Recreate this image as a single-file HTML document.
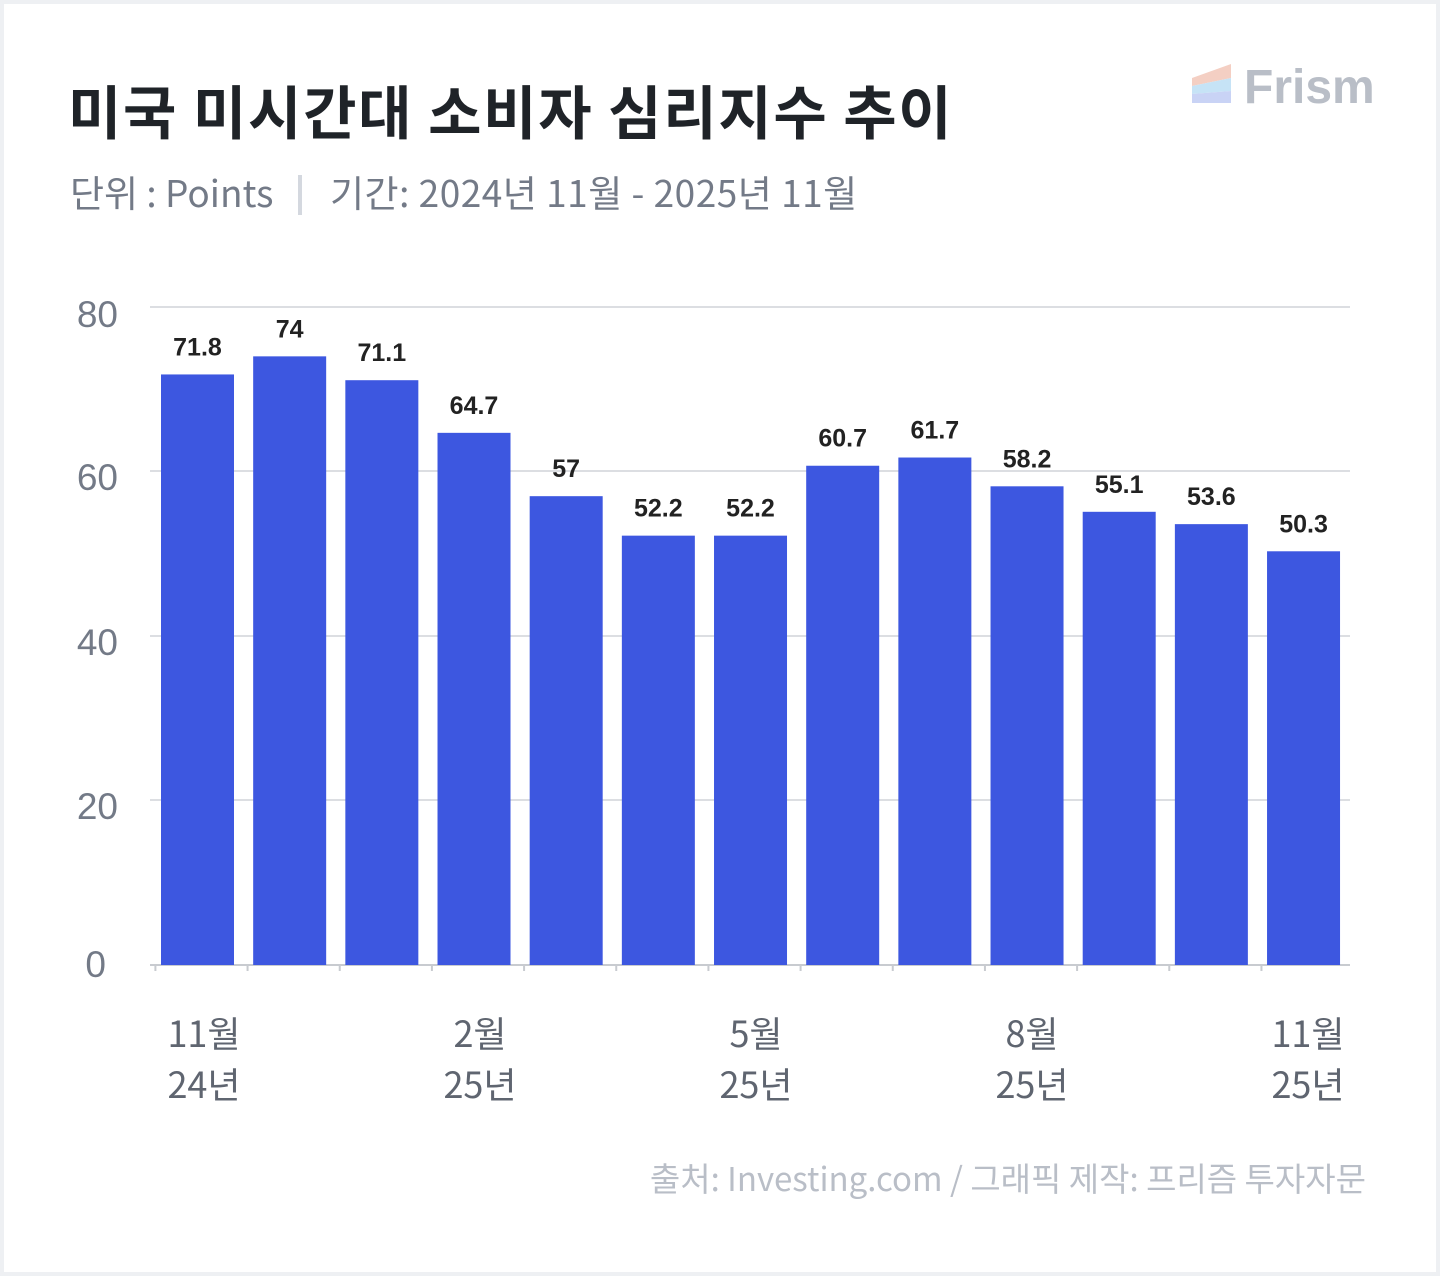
<!DOCTYPE html>
<html><head><meta charset="utf-8"><style>
body{margin:0;width:1440px;height:1276px;background:#eef0f3;font-family:"Liberation Sans","Noto Sans CJK KR",sans-serif;}
.card{position:absolute;left:4px;top:4px;width:1432px;height:1268px;background:#fff;}
</style></head><body>
<div class="card"></div>
<svg width="1440" height="1276" style="position:absolute;left:0;top:0" font-family="Liberation Sans, Noto Sans CJK KR, sans-serif">
<text x="68" y="134" font-size="58" font-weight="700" fill="#1f2328" font-family="Noto Sans CJK KR, sans-serif" letter-spacing="1.7">미국 미시간대 소비자 심리지수 추이</text>
<text x="70" y="207" font-size="37" fill="#737a87" font-family="Noto Sans CJK KR, sans-serif" letter-spacing="0">단위 : Points</text>
<rect x="298" y="175" width="4" height="40" fill="#d4d8df"/>
<text x="330" y="207" font-size="37" fill="#737a87" font-family="Noto Sans CJK KR, sans-serif" letter-spacing="0.5">기간: 2024년 11월 - 2025년 11월</text>
<polygon points="1192,78 1231,64 1231,78 1192,86" fill="#f4cfc3"/>
<polygon points="1192,86 1231,78 1231,91 1192,94" fill="#c6e3f6"/>
<polygon points="1192,94 1231,91 1231,103 1192,103" fill="#c9d3f5"/>
<text x="1244" y="103" font-size="48" font-weight="700" fill="#b9bec7">Frism</text>
<g stroke="#dcdee2" stroke-width="2">
<line x1="150" y1="307" x2="1350" y2="307"/><line x1="150" y1="471" x2="1350" y2="471"/>
<line x1="150" y1="636" x2="1350" y2="636"/><line x1="150" y1="800" x2="1350" y2="800"/>
<line x1="150" y1="965" x2="1350" y2="965" stroke="#c8cbd0"/>
</g>
<g font-size="37" fill="#737a87" text-anchor="end">
<text x="118" y="327">80</text><text x="118" y="490">60</text><text x="118" y="655">40</text><text x="118" y="819">20</text><text x="106" y="977">0</text>
</g>
<g id="bars"></g>
<g font-size="36" fill="#5f6570" text-anchor="middle" font-family="Noto Sans CJK KR, sans-serif" letter-spacing="0">
<text x="204" y="1047">11월</text><text x="204" y="1098">24년</text>
<text x="480" y="1047">2월</text><text x="480" y="1098">25년</text>
<text x="756" y="1047">5월</text><text x="756" y="1098">25년</text>
<text x="1032" y="1047">8월</text><text x="1032" y="1098">25년</text>
<text x="1308" y="1047">11월</text><text x="1308" y="1098">25년</text>
</g>
<text x="1366" y="1191" font-size="33" fill="#b9bec7" text-anchor="end" font-family="Noto Sans CJK KR, sans-serif" letter-spacing="0">출처: Investing.com / 그래픽 제작: 프리즘 투자자문</text>
</svg>
<script>
var v=[71.8,74,71.1,64.7,57,52.2,52.2,60.7,61.7,58.2,55.1,53.6,50.3],s='';
for(var i=0;i<13;i++){var x=161+i*92.17,y=965-v[i]*8.225;
s+='<rect x="'+x+'" y="'+y+'" width="73" height="'+(965-y)+'" fill="#3d57e0"/>';
s+='<text x="'+(x+36.5)+'" y="'+(y-19)+'" font-size="25" font-weight="700" fill="#222" text-anchor="middle">'+v[i]+'</text>';
s+='<line x1="'+(x-5.6)+'" y1="965" x2="'+(x-5.6)+'" y2="971" stroke="#c8cbd0" stroke-width="2"/>';}
document.getElementById('bars').innerHTML=s;
</script>
</body></html>
